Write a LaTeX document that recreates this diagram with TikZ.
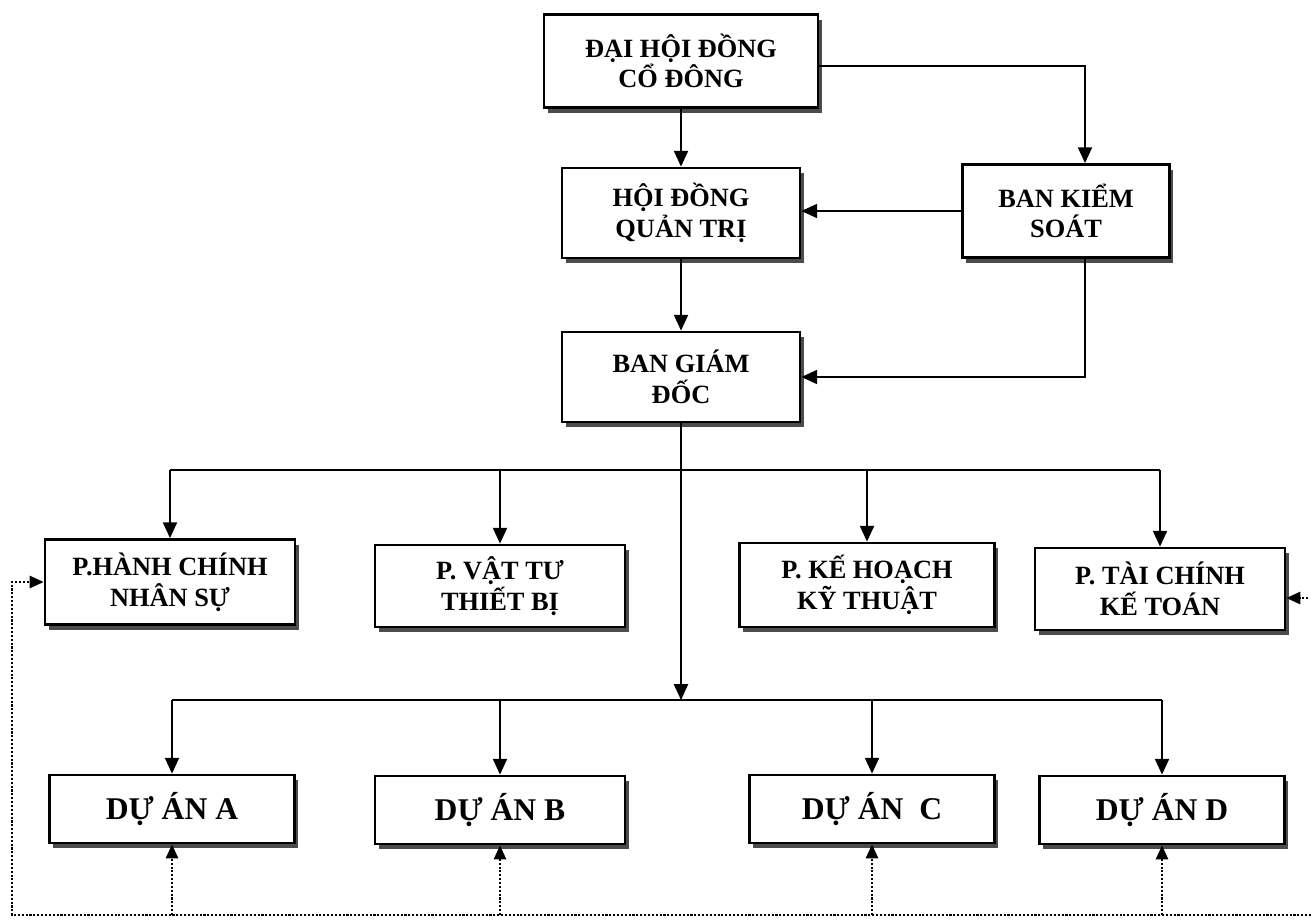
\documentclass[tikz,border=0pt]{standalone}
\usepackage{fontspec}
\setmainfont{Liberation Serif}
\usetikzlibrary{arrows.meta,shadows}

\begin{document}
\begin{tikzpicture}[x=0.02cm,y=-0.02cm]
\tikzstyle{every node}=[font=\bfseries\fontsize{15}{17.5}\selectfont]
\tikzstyle{unit}=[draw, line width=1.6pt, fill=white, align=center, minimum width=5cm, minimum height=1.75cm, drop shadow={shadow xshift=2.2pt, shadow yshift=-3pt, fill=black!70, opacity=1}]
\tikzstyle{project}=[unit, minimum height=1.36cm, font=\bfseries\fontsize{18}{21}\selectfont]
\tikzstyle{link}=[line width=1.1pt, -{Triangle[length=9pt,width=8pt]}]
\tikzstyle{feedback}=[line width=1.2pt, densely dotted, -{Triangle[length=8pt,width=7pt]}]
\useasboundingbox (0,0) rectangle (1311,920);
% management
\node [unit, minimum width=5.48cm, minimum height=1.86cm] (DHDCD) at (681,61) {ĐẠI HỘI ĐỒNG\\CỔ ĐÔNG};
\node [unit, minimum width=4.76cm, minimum height=1.8cm] (HDQT) at (681,213) {HỘI ĐỒNG\\QUẢN TRỊ};
\node [unit, minimum width=4.14cm, minimum height=1.86cm] (BKS) at (1066,211) {BAN KIỂM\\SOÁT};
\node [unit, minimum width=4.76cm, minimum height=1.8cm] (BGD) at (681,377) {BAN GIÁM\\ĐỐC};
% departments
\node [unit, minimum height=1.7cm] (PHC) at (170,582) {P.HÀNH CHÍNH\\NHÂN SỰ};
\node [unit, minimum height=1.64cm] (PVT) at (500,586) {P. VẬT TƯ\\THIẾT BỊ};
\node [unit, minimum width=5.1cm, minimum height=1.68cm] (PKH) at (867,585) {P. KẾ HOẠCH\\KỸ THUẬT};
\node [unit, minimum height=1.64cm] (PTC) at (1160,589) {P. TÀI CHÍNH\\KẾ TOÁN};
% projects
\node [project, minimum width=4.9cm] (DAA) at (172,809) {DỰ ÁN A};
\node [project] (DAB) at (500,810) {DỰ ÁN B};
\node [project, minimum width=4.9cm] (DAC) at (872,809) {DỰ ÁN~~C};
\node [project, minimum width=4.9cm] (DAD) at (1162,810) {DỰ ÁN D};
\coordinate (UPBUS) at (681,470);
\coordinate (LOWBUS) at (681,700);
\coordinate (BASE) at (0,915);
\coordinate (BL) at (12,915);
\coordinate (BR) at (1311,915);
\coordinate (RS) at (1308,598);
\draw [link] (DHDCD.east |- 0,66) -| ([xshift=0.38cm]BKS.north);
\draw [link] (DHDCD) -- (HDQT);
\draw [link] (BKS.west) -- (BKS.west -| HDQT.east);
\draw [link] (HDQT) -- (BGD);
\draw [link] ([xshift=0.38cm]BKS.south) |- (BGD.east);
\draw [link] (BGD) -- (LOWBUS);
\draw [line width=1.1pt] (PHC.north |- UPBUS) -- (PTC.north |- UPBUS);
\draw [line width=1.1pt] (DAA.north |- LOWBUS) -- (DAD.north |- LOWBUS);
\foreach \n in {PHC,PVT,PKH,PTC} \draw [link] (\n.north |- UPBUS) -- (\n.north);
\foreach \n in {DAA,DAB,DAC,DAD} \draw [link] (\n.north |- LOWBUS) -- (\n.north);
% feedback
\foreach \n in {DAA,DAB,DAC,DAD} \draw [feedback] (\n.south |- BASE) -- (\n.south);
\draw [feedback] (BR) -- (BL) |- (PHC.west);
\draw [feedback] (RS) -- (RS -| PTC.east);
\end{tikzpicture}
\end{document}
